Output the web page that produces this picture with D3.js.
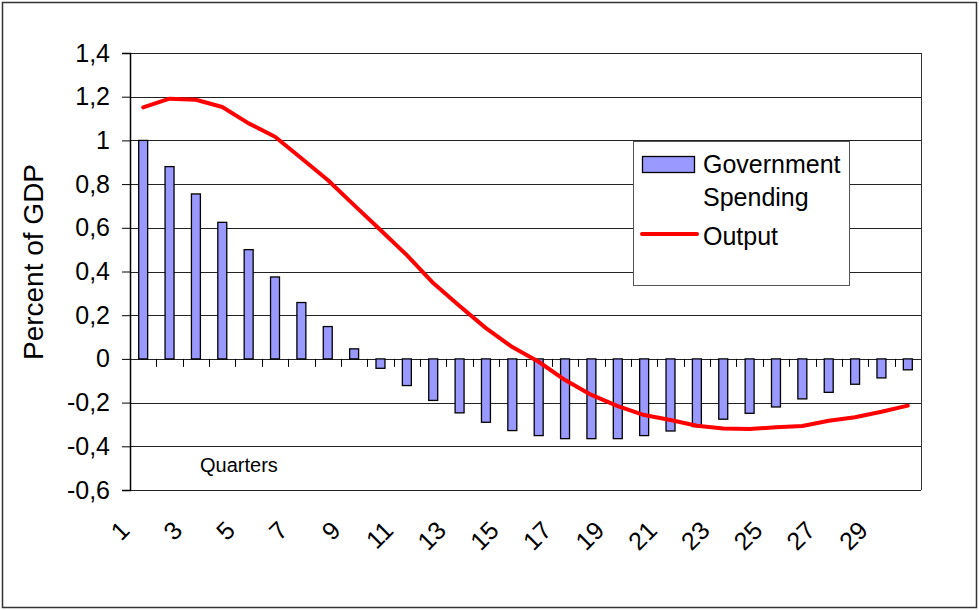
<!DOCTYPE html>
<html>
<head>
<meta charset="utf-8">
<script src="https://cdn.jsdelivr.net/npm/d3@7"></script>
<style>
  body { margin: 0; background: #fff; }
  svg text { font-family: "Liberation Sans", Arial, sans-serif; fill: #000; }
</style>
</head>
<body>
<div id="chart"></div>
<script>
// quarters 1..30
const quarters = d3.range(1, 31);
const govSpending = [1.0, 0.88, 0.755, 0.625, 0.5, 0.375, 0.258, 0.148, 0.046, -0.043,
  -0.122, -0.19, -0.247, -0.29, -0.328, -0.351, -0.365, -0.365, -0.365, -0.351,
  -0.33, -0.31, -0.276, -0.249, -0.22, -0.183, -0.153, -0.116, -0.087, -0.05];
const output = [1.151, 1.191, 1.186, 1.153, 1.078, 1.017, 0.918, 0.819, 0.704, 0.59,
  0.475, 0.347, 0.242, 0.141, 0.054, -0.013, -0.097, -0.165, -0.216, -0.257,
  -0.28, -0.306, -0.319, -0.321, -0.313, -0.307, -0.283, -0.267, -0.242, -0.214];
const yTicks = [1.4, 1.2, 1, 0.8, 0.6, 0.4, 0.2, 0, -0.2, -0.4, -0.6];
const xLabels = quarters.filter(q => q % 2 === 1);

const W = 979, H = 610;
const margin = {top: 53, right: 58, bottom: 120, left: 130};
const width = W - margin.left - margin.right;
const height = H - margin.top - margin.bottom;

const svg = d3.select("#chart").append("svg")
  .attr("width", W)
  .attr("height", H);

// outer chart border
svg.append("rect")
  .attr("x", 2.5).attr("y", 2.5)
  .attr("width", W - 5).attr("height", H - 5)
  .attr("fill", "#fff")
  .attr("stroke", "#333")
  .attr("stroke-width", 1.5);

const g = svg.append("g")
  .attr("transform", "translate(" + margin.left + "," + margin.top + ")");

let x = d3.scaleBand()
  .domain(quarters)
  .range([0, width])
  .paddingInner(0.66)
  .paddingOuter(0.33);
let xc = d => x(d) + x.bandwidth() / 2;
let step = x.step();

let y = d3.scaleLinear()
  .domain([-0.6, 1.4])
  .range([height, 0]);

// gridlines
g.append("g")
  .selectAll("line")
  .data(yTicks)
  .enter()
  .append("line")
    .attr("x1", 0).attr("x2", width)
    .attr("y1", d => Math.round(y(d)) + 0.5)
    .attr("y2", d => Math.round(y(d)) + 0.5)
    .attr("stroke", "#222")
    .attr("stroke-width", 1);

// plot area border (right side)
g.append("line")
  .attr("x1", width + 0.5).attr("x2", width + 0.5)
  .attr("y1", 0).attr("y2", height)
  .attr("stroke", "#333");

// y axis
const yAxis = g.append("g")
  .call(d3.axisLeft(y)
    .tickValues(yTicks)
    .tickSize(8)
    .tickPadding(12)
    .tickFormat(d => String(d).replace(".", ",")));
yAxis.select(".domain").attr("stroke", "#000").attr("stroke-width", 1.5);
yAxis.selectAll(".tick line").attr("stroke", "#000");
yAxis.selectAll("text")
  .style("font-size", "25px")
  .attr("fill", "#000");

// bars
g.append("g")
  .selectAll("rect")
  .data(quarters)
  .enter()
  .append("rect")
    .attr("x", d => x(d))
    .attr("width", x.bandwidth())
    .attr("y", (d, i) => y(Math.max(0, govSpending[i])))
    .attr("height", (d, i) => Math.abs(y(govSpending[i]) - y(0)))
    .attr("fill", "#9999ff")
    .attr("stroke", "#000")
    .attr("stroke-width", 1.3);

// category ticks on zero line
g.append("g")
  .selectAll("line")
  .data(quarters.slice(1))
  .enter()
  .append("line")
    .attr("x1", d => Math.round(xc(d) - step / 2) + 0.5)
    .attr("x2", d => Math.round(xc(d) - step / 2) + 0.5)
    .attr("y1", y(0))
    .attr("y2", y(0) + 8)
    .attr("stroke", "#000");

// output line
g.append("path")
  .datum(quarters)
  .attr("fill", "none")
  .attr("stroke", "#ff0000")
  .attr("stroke-width", 4)
  .attr("stroke-linejoin", "round")
  .attr("stroke-linecap", "round")
  .attr("d", d3.line()
    .x(d => xc(d))
    .y((d, i) => y(output[i])));

// x labels, rotated
g.append("g")
  .selectAll("text")
  .data(xLabels)
  .enter()
  .append("text")
    .attr("transform", d => "translate(" + (xc(d) - 12) + "," + (height + 42) + ") rotate(-45)")
    .attr("text-anchor", "end")
    .style("font-size", "25px")
    .text(d => d);

// "Quarters" note
g.append("text")
  .attr("x", 70)
  .attr("y", 419)
  .style("font-size", "20px")
  .text("Quarters");

// y title
svg.append("text")
  .attr("transform", "translate(43,262) rotate(-90)")
  .attr("text-anchor", "middle")
  .style("font-size", "28px")
  .text("Percent of GDP");

// legend
const lg = svg.append("g").attr("transform", "translate(633,141)");
lg.append("rect")
  .attr("x", 0.5).attr("y", 0.5)
  .attr("width", 216).attr("height", 144)
  .attr("fill", "#fff")
  .attr("stroke", "#555");
lg.append("rect")
  .attr("x", 9.5).attr("y", 15.5)
  .attr("width", 52).attr("height", 16)
  .attr("fill", "#9999ff")
  .attr("stroke", "#000")
  .attr("stroke-width", 1.3);
lg.append("line")
  .attr("x1", 9).attr("x2", 64)
  .attr("y1", 93).attr("y2", 93)
  .attr("stroke", "#ff0000")
  .attr("stroke-width", 4)
  .attr("stroke-linecap", "round");
lg.selectAll("text.lab")
  .data([["Government", 32], ["Spending", 65], ["Output", 104]])
  .enter()
  .append("text")
    .attr("class", "lab")
    .attr("x", 70)
    .attr("y", d => d[1])
    .style("font-size", "25px")
    .text(d => d[0]);
</script>
</body>
</html>
